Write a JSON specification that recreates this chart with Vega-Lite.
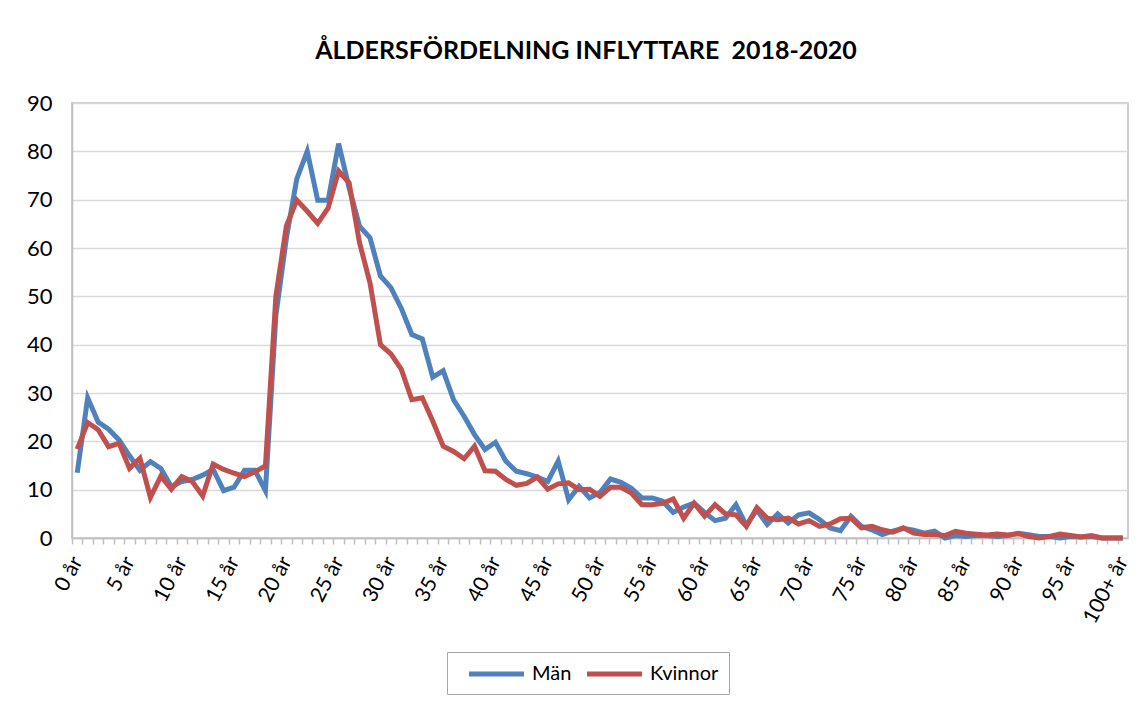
{
  "$schema": "https://vega.github.io/schema/vega-lite/v6.json",
  "autosize": {"type": "none"},
  "width": 1056,
  "height": 435,
  "padding": {"left": 72, "top": 103, "right": 20, "bottom": 164},
  "background": "white",
  "config": {
    "font": "Lato",
    "view": {"stroke": "#BFBFBF", "strokeWidth": 1.5}
  },
  "title": {
    "text": "ÅLDERSFÖRDELNING INFLYTTARE\u00a0\u00a02018-2020",
    "font": "Lato",
    "fontSize": 25,
    "fontWeight": "bold",
    "color": "black",
    "anchor": "middle",
    "offset": 28,
    "dx": -14
  },
  "data": {
    "values": [
      {"age": 0, "Män": 13.5, "Kvinnor": 18.4},
      {"age": 1, "Män": 29, "Kvinnor": 23.9},
      {"age": 2, "Män": 24, "Kvinnor": 22.4},
      {"age": 3, "Män": 22.5, "Kvinnor": 18.9},
      {"age": 4, "Män": 20.3, "Kvinnor": 19.6},
      {"age": 5, "Män": 17, "Kvinnor": 14.4},
      {"age": 6, "Män": 14, "Kvinnor": 16.5},
      {"age": 7, "Män": 15.8, "Kvinnor": 8.4},
      {"age": 8, "Män": 14.4, "Kvinnor": 12.8},
      {"age": 9, "Män": 10.6, "Kvinnor": 10.1},
      {"age": 10, "Män": 11.7, "Kvinnor": 12.7},
      {"age": 11, "Män": 12.1, "Kvinnor": 11.7},
      {"age": 12, "Män": 13, "Kvinnor": 8.7},
      {"age": 13, "Män": 14.2, "Kvinnor": 15.3},
      {"age": 14, "Män": 9.8, "Kvinnor": 14.2},
      {"age": 15, "Män": 10.5, "Kvinnor": 13.4},
      {"age": 16, "Män": 14, "Kvinnor": 12.7},
      {"age": 17, "Män": 14, "Kvinnor": 13.7},
      {"age": 18, "Män": 9.8, "Kvinnor": 14.9},
      {"age": 19, "Män": 46, "Kvinnor": 50},
      {"age": 20, "Män": 62, "Kvinnor": 64.5},
      {"age": 21, "Män": 74.3, "Kvinnor": 69.9},
      {"age": 22, "Män": 80, "Kvinnor": 67.6},
      {"age": 23, "Män": 69.9, "Kvinnor": 65.1},
      {"age": 24, "Män": 69.9, "Kvinnor": 68.3},
      {"age": 25, "Män": 81.6, "Kvinnor": 75.9},
      {"age": 26, "Män": 72.5, "Kvinnor": 73.5},
      {"age": 27, "Män": 64.5, "Kvinnor": 61.1},
      {"age": 28, "Män": 62.1, "Kvinnor": 52.8},
      {"age": 29, "Män": 54.2, "Kvinnor": 40},
      {"age": 30, "Män": 51.8, "Kvinnor": 38.1},
      {"age": 31, "Män": 47.5, "Kvinnor": 34.9},
      {"age": 32, "Män": 42.1, "Kvinnor": 28.6},
      {"age": 33, "Män": 41.2, "Kvinnor": 29},
      {"age": 34, "Män": 33.3, "Kvinnor": 24.2},
      {"age": 35, "Män": 34.6, "Kvinnor": 19},
      {"age": 36, "Män": 28.6, "Kvinnor": 17.9},
      {"age": 37, "Män": 25.2, "Kvinnor": 16.4},
      {"age": 38, "Män": 21.4, "Kvinnor": 19},
      {"age": 39, "Män": 18.3, "Kvinnor": 13.9},
      {"age": 40, "Män": 19.8, "Kvinnor": 13.8},
      {"age": 41, "Män": 15.9, "Kvinnor": 12.1},
      {"age": 42, "Män": 13.8, "Kvinnor": 10.9},
      {"age": 43, "Män": 13.3, "Kvinnor": 11.3},
      {"age": 44, "Män": 12.6, "Kvinnor": 12.6},
      {"age": 45, "Män": 11.7, "Kvinnor": 10.1},
      {"age": 46, "Män": 15.9, "Kvinnor": 11.2},
      {"age": 47, "Män": 7.9, "Kvinnor": 11.4},
      {"age": 48, "Män": 10.7, "Kvinnor": 10},
      {"age": 49, "Män": 8.3, "Kvinnor": 10.1},
      {"age": 50, "Män": 9.4, "Kvinnor": 8.6},
      {"age": 51, "Män": 12.2, "Kvinnor": 10.5},
      {"age": 52, "Män": 11.5, "Kvinnor": 10.5},
      {"age": 53, "Män": 10.3, "Kvinnor": 9.3},
      {"age": 54, "Män": 8.3, "Kvinnor": 6.9},
      {"age": 55, "Män": 8.3, "Kvinnor": 6.9},
      {"age": 56, "Män": 7.6, "Kvinnor": 7.2},
      {"age": 57, "Män": 5.3, "Kvinnor": 8.1},
      {"age": 58, "Män": 6.4, "Kvinnor": 4.1},
      {"age": 59, "Män": 7.2, "Kvinnor": 7.2},
      {"age": 60, "Män": 5.3, "Kvinnor": 4.5},
      {"age": 61, "Män": 3.6, "Kvinnor": 6.9},
      {"age": 62, "Män": 4.1, "Kvinnor": 5},
      {"age": 63, "Män": 6.9, "Kvinnor": 4.8},
      {"age": 64, "Män": 2.6, "Kvinnor": 2.4},
      {"age": 65, "Män": 5.8, "Kvinnor": 6.3},
      {"age": 66, "Män": 2.8, "Kvinnor": 4.1},
      {"age": 67, "Män": 5, "Kvinnor": 3.8},
      {"age": 68, "Män": 3.1, "Kvinnor": 4.1},
      {"age": 69, "Män": 4.8, "Kvinnor": 2.9},
      {"age": 70, "Män": 5.2, "Kvinnor": 3.6},
      {"age": 71, "Män": 3.8, "Kvinnor": 2.4},
      {"age": 72, "Män": 2.1, "Kvinnor": 2.9},
      {"age": 73, "Män": 1.5, "Kvinnor": 4},
      {"age": 74, "Män": 4.5, "Kvinnor": 4.1},
      {"age": 75, "Män": 2.4, "Kvinnor": 2.1},
      {"age": 76, "Män": 1.7, "Kvinnor": 2.4},
      {"age": 77, "Män": 0.7, "Kvinnor": 1.7},
      {"age": 78, "Män": 1.4, "Kvinnor": 1.2},
      {"age": 79, "Män": 2, "Kvinnor": 2.1},
      {"age": 80, "Män": 1.6, "Kvinnor": 1},
      {"age": 81, "Män": 1, "Kvinnor": 0.7},
      {"age": 82, "Män": 1.4, "Kvinnor": 0.7},
      {"age": 83, "Män": 0, "Kvinnor": 0.5},
      {"age": 84, "Män": 0.5, "Kvinnor": 1.4},
      {"age": 85, "Män": 0.3, "Kvinnor": 1},
      {"age": 86, "Män": 0.5, "Kvinnor": 0.8},
      {"age": 87, "Män": 0.5, "Kvinnor": 0.6},
      {"age": 88, "Män": 0.3, "Kvinnor": 0.8},
      {"age": 89, "Män": 0.5, "Kvinnor": 0.6},
      {"age": 90, "Män": 1, "Kvinnor": 0.9},
      {"age": 91, "Män": 0.7, "Kvinnor": 0.3},
      {"age": 92, "Män": 0.3, "Kvinnor": 0},
      {"age": 93, "Män": 0.3, "Kvinnor": 0.3},
      {"age": 94, "Män": 0, "Kvinnor": 0.8},
      {"age": 95, "Män": 0.3, "Kvinnor": 0.5},
      {"age": 96, "Män": 0.2, "Kvinnor": 0.2},
      {"age": 97, "Män": 0.3, "Kvinnor": 0.5},
      {"age": 98, "Män": 0, "Kvinnor": 0},
      {"age": 99, "Män": 0, "Kvinnor": 0},
      {"age": 100, "Män": 0, "Kvinnor": 0}
    ]
  },
  "transform": [
    {"fold": ["Män", "Kvinnor"], "as": ["kön", "antal"]}
  ],
  "mark": {"type": "line", "strokeWidth": 5, "strokeJoin": "miter", "strokeCap": "butt"},
  "encoding": {
    "x": {
      "field": "age",
      "type": "quantitative",
      "scale": {"domain": [-0.5, 100.5], "nice": false, "zero": false},
      "axis": {
        "title": null,
        "grid": false,
        "values": [-0.5, 0.5, 1.5, 2.5, 3.5, 4.5, 5.5, 6.5, 7.5, 8.5, 9.5, 10.5, 11.5, 12.5, 13.5, 14.5, 15.5, 16.5, 17.5, 18.5, 19.5, 20.5, 21.5, 22.5, 23.5, 24.5, 25.5, 26.5, 27.5, 28.5, 29.5, 30.5, 31.5, 32.5, 33.5, 34.5, 35.5, 36.5, 37.5, 38.5, 39.5, 40.5, 41.5, 42.5, 43.5, 44.5, 45.5, 46.5, 47.5, 48.5, 49.5, 50.5, 51.5, 52.5, 53.5, 54.5, 55.5, 56.5, 57.5, 58.5, 59.5, 60.5, 61.5, 62.5, 63.5, 64.5, 65.5, 66.5, 67.5, 68.5, 69.5, 70.5, 71.5, 72.5, 73.5, 74.5, 75.5, 76.5, 77.5, 78.5, 79.5, 80.5, 81.5, 82.5, 83.5, 84.5, 85.5, 86.5, 87.5, 88.5, 89.5, 90.5, 91.5, 92.5, 93.5, 94.5, 95.5, 96.5, 97.5, 98.5, 99.5],
        "labelExpr": "(datum.value + 0.5) % 5 == 0 ? ((datum.value + 0.5) == 100 ? '100+ år' : (datum.value + 0.5) + ' år') : ''",
        "labelOffset": 5.23,
        "labelAngle": -62,
        "labelAlign": "right",
        "labelBaseline": "middle",
        "labelPadding": 14,
        "labelFontSize": 21,
        "labelColor": "black",
        "labelOverlap": false,
        "labelBound": false,
        "labelFlush": false,
        "ticks": true,
        "tickSize": 6,
        "tickColor": "#BFBFBF",
        "tickWidth": 1.5,
        "domainColor": "#BFBFBF",
        "domainWidth": 1.5
      }
    },
    "y": {
      "field": "antal",
      "type": "quantitative",
      "scale": {"domain": [0, 90], "nice": false},
      "axis": {
        "title": null,
        "values": [0, 10, 20, 30, 40, 50, 60, 70, 80, 90],
        "ticks": false,
        "labelPadding": 20,
        "labelFontSize": 22,
        "labelColor": "black",
        "gridColor": "#D9D9D9",
        "gridWidth": 1.5,
        "domainColor": "#BFBFBF",
        "domainWidth": 1.5
      }
    },
    "color": {
      "field": "kön",
      "type": "nominal",
      "scale": {"domain": ["Män", "Kvinnor"], "range": ["#4F81BD", "#C0504D"]},
      "legend": {
        "title": null,
        "orient": "none",
        "legendX": 375,
        "legendY": 549,
        "direction": "horizontal",
        "symbolType": "M0,0H6",
        "symbolSize": 336,
        "symbolStrokeWidth": 5,
        "labelFontSize": 20,
        "labelColor": "black",
        "labelOffset": 51,
        "columnPadding": 3,
        "padding": 10,
        "strokeColor": "#A6A6A6",
        "fillColor": "white"
      }
    }
  }
}
